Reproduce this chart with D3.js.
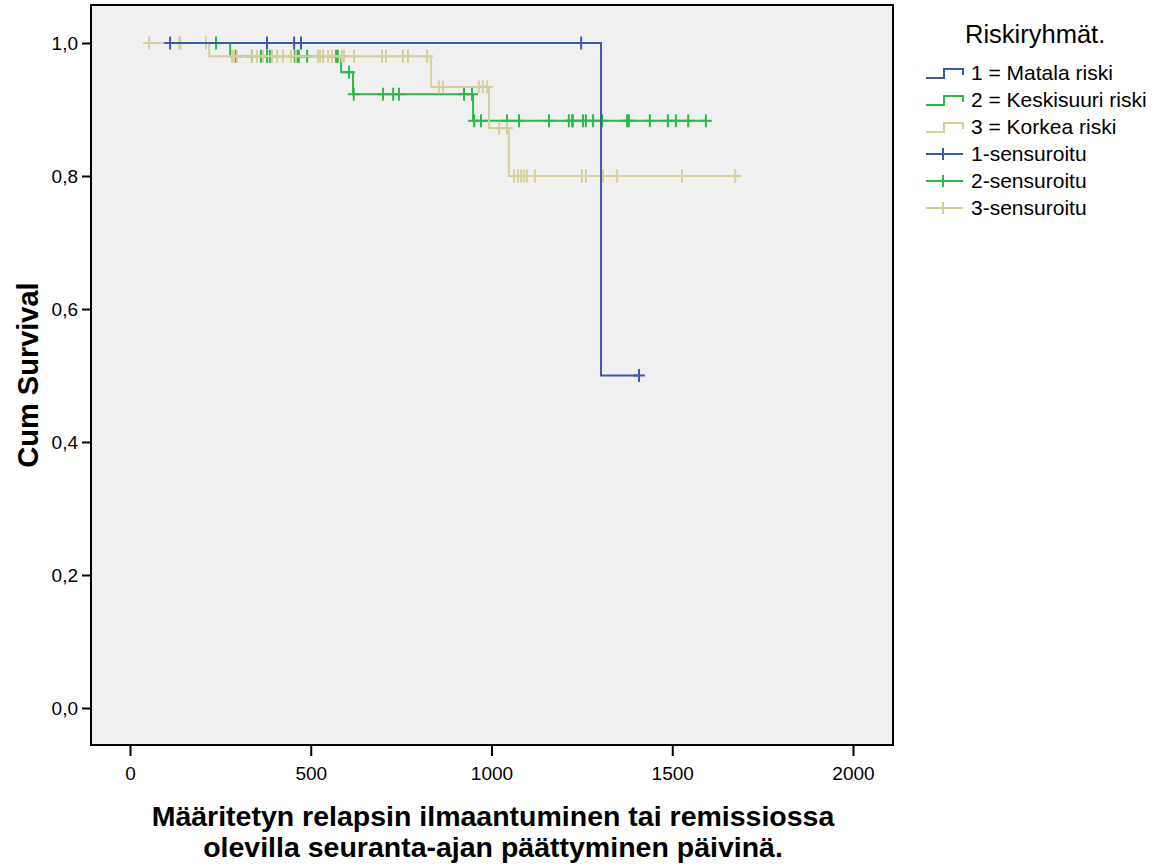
<!DOCTYPE html>
<html>
<head>
<meta charset="utf-8">
<script src="https://cdn.jsdelivr.net/npm/d3@7"></script>
<style>
  body { margin: 0; background: #fff; }
  text { font-family: "Liberation Sans", Arial, sans-serif; }
</style>
</head>
<body>
<div id="ChartArea"></div>
<script>
// ------------------------------------------------------------------
//  Kaplan-Meier käyrät (riskiryhmät)
// ------------------------------------------------------------------

const groupNames = ["1 = Matala riski", "2 = Keskisuuri riski", "3 = Korkea riski"];
const censorNames = ["1-sensuroitu", "2-sensuroitu", "3-sensuroitu"];
const groupColors = ["#3e58ac", "#2db84a", "#d6cf9c"];

// ryhmä 1
const g1Start = 111;
const g1EventTimes = [1303];
const g1EventSurv = [0.5];
const g1Censored = [111, 379, 454, 473, 1248, 1408];

// ryhmä 2
const g2Start = 238;
const g2EventTimes = [277, 584, 617, 949];
const g2EventSurv = [0.98, 0.956, 0.923, 0.883];
const g2Censored = [238, 293, 337, 362, 379, 387, 456, 462, 467, 490, 570, 575, 606, 619,
  700, 728, 744, 924, 946, 952, 971, 1043, 1076, 1159, 1214, 1223, 1225, 1253, 1261,
  1281, 1306, 1375, 1380, 1438, 1488, 1510, 1544, 1593];

// ryhmä 3
const g3Start = 53;
const g3EventTimes = [219, 833, 993, 1048];
const g3EventSurv = [0.98, 0.934, 0.872, 0.80];
const g3Censored = [53, 136, 139, 210, 282, 288, 296, 337, 351, 368, 393, 407, 423, 445,
  459, 520, 526, 534, 548, 559, 586, 592, 620, 697, 708, 755, 769, 822, 855, 866, 965,
  976, 988, 1021, 1043, 1062, 1073, 1082, 1090, 1098, 1120, 1250, 1261, 1308, 1347,
  1527, 1674];

const xTicks = [0, 500, 1000, 1500, 2000];
const yTicks = [0, 0.2, 0.4, 0.6, 0.8, 1.0];

// ------------------------------------------------------------------
const W = 1157, H = 865;
const frame = {left: 91, right: 893, top: 5, bottom: 745};

const svg = d3.select("#ChartArea").append("svg")
    .attr("width", W)
    .attr("height", H);

const x = d3.scaleLinear().domain([0, 2000]).range([130, 853]);
const y = d3.scaleLinear().domain([0, 1]).range([708, 43]);

// plot background + frame
svg.append("rect")
    .attr("x", frame.left).attr("y", frame.top)
    .attr("width", frame.right - frame.left)
    .attr("height", frame.bottom - frame.top)
    .attr("fill", "#f0f0f0")
    .attr("stroke", "#000")
    .attr("stroke-width", 2);

// axes
const yAxis = svg.append("g")
    .attr("transform", "translate(" + frame.left + ",0)")
    .call(d3.axisLeft(y).tickValues(yTicks).tickSize(9).tickPadding(4)
      .tickFormat(d => d.toFixed(1).replace(".", ",")));
const xAxis = svg.append("g")
    .attr("transform", "translate(0," + frame.bottom + ")")
    .call(d3.axisBottom(x).tickValues(xTicks).tickSize(11).tickPadding(11)
      .tickFormat(d3.format("d")));
[yAxis, xAxis].forEach(a => {
  a.select(".domain").remove();
  a.selectAll("line").attr("stroke", "#000").attr("stroke-width", 2);
  a.selectAll("text").attr("fill", "#000").style("font-size", "19px")
    .style("font-family", "'Liberation Sans', Arial, sans-serif");
});

// survival level at time t (step function)
function survAt(t, evT, evS) {
  let s = 1;
  evT.forEach((e, i) => { if (e <= t) s = evS[i]; });
  return s;
}

function drawGroup(start, evT, evS, cens, color) {
  const last = d3.max(cens.concat(evT));
  const pts = [[start, 1]];
  evT.forEach((t, i) => pts.push([t, evS[i]]));
  pts.push([last, survAt(last, evT, evS)]);

  const line = d3.line()
      .x(d => x(d[0]))
      .y(d => y(d[1]))
      .curve(d3.curveStepAfter);

  const g = svg.append("g");
  g.append("path")
      .datum(pts)
      .attr("d", line)
      .attr("fill", "none")
      .attr("stroke", color)
      .attr("stroke-width", 2);

  // censored marks "+"
  const m = g.selectAll(".cens")
      .data(cens)
      .enter().append("g")
      .attr("transform", d => "translate(" + x(d) + "," + y(survAt(d, evT, evS)) + ")");
  m.append("line").attr("x1", 0).attr("x2", 0).attr("y1", -6.5).attr("y2", 6.5)
      .attr("stroke", color).attr("stroke-width", 2);
  m.append("line").attr("x1", -6).attr("x2", 6).attr("y1", 0).attr("y2", 0)
      .attr("stroke", color).attr("stroke-width", 2);
}

drawGroup(g2Start, g2EventTimes, g2EventSurv, g2Censored, groupColors[1]);
drawGroup(g3Start, g3EventTimes, g3EventSurv, g3Censored, groupColors[2]);
drawGroup(g1Start, g1EventTimes, g1EventSurv, g1Censored, groupColors[0]);

// axis titles
svg.append("text")
    .attr("transform", "translate(38,375) rotate(-90)")
    .attr("text-anchor", "middle")
    .style("font-size", "29px").style("font-weight", "bold")
    .text("Cum Survival");

svg.append("text")
    .attr("x", 493).attr("y", 826)
    .attr("text-anchor", "middle")
    .style("font-size", "28.5px").style("font-weight", "bold")
    .text("Määritetyn relapsin ilmaantuminen tai remissiossa");
svg.append("text")
    .attr("x", 493).attr("y", 857)
    .attr("text-anchor", "middle")
    .style("font-size", "28.5px").style("font-weight", "bold")
    .text("olevilla seuranta-ajan päättyminen päivinä.");

// legend
const lg = svg.append("g");
lg.append("text")
    .attr("x", 965).attr("y", 43)
    .style("font-size", "25.5px")
    .text("Riskiryhmät.");

const rowY = [73, 100, 127, 154, 181, 208];
groupNames.forEach((name, i) => {
  const cy = rowY[i];
  lg.append("path")
      .attr("d", "M926," + (cy + 5) + "H944V" + (cy - 4) + "H963V" + (cy + 2))
      .attr("fill", "none").attr("stroke", groupColors[i]).attr("stroke-width", 2);
  lg.append("text").attr("x", 971).attr("y", cy).attr("dy", "0.35em")
      .style("font-size", "21px").text(name);
});
censorNames.forEach((name, i) => {
  const cy = rowY[i + 3];
  lg.append("path")
      .attr("d", "M926," + cy + "H963M943," + (cy - 6) + "V" + (cy + 6))
      .attr("fill", "none").attr("stroke", groupColors[i]).attr("stroke-width", 2);
  lg.append("text").attr("x", 971).attr("y", cy).attr("dy", "0.35em")
      .style("font-size", "21px").text(name);
});
</script>
</body>
</html>
